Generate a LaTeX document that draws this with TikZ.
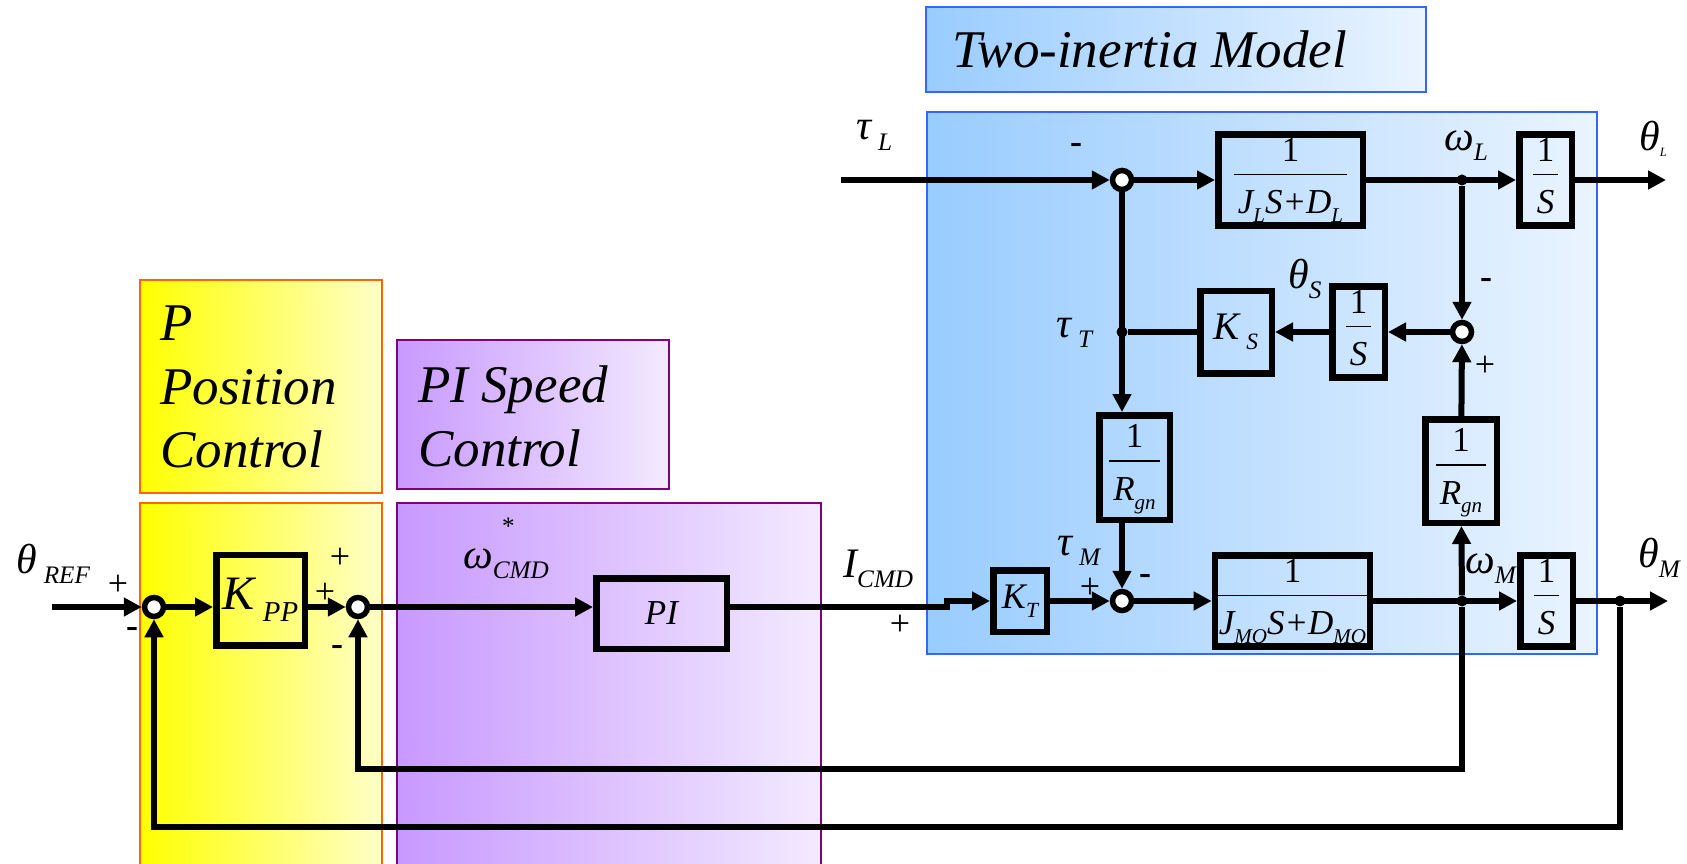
\documentclass[tikz,border=0pt]{standalone}
\usepackage{fontspec}
\setmainfont{Liberation Serif}
\usetikzlibrary{arrows.meta,positioning,calc}

\definecolor{ylwL}{HTML}{FFFF00}
\definecolor{ylwR}{HTML}{FFFFC8}
\definecolor{prpL}{HTML}{C899FF}
\definecolor{prpR}{HTML}{F3EAFF}
\definecolor{bluL}{HTML}{99CCFF}
\definecolor{bluR}{HTML}{EAF4FF}
\definecolor{ylwEdge}{HTML}{FF6600}
\definecolor{prpEdge}{HTML}{800080}
\definecolor{bluEdge}{HTML}{3366FF}

\setlength{\arrayrulewidth}{1.8pt}
\newcommand{\lsub}[1]{\raisebox{-0.25em}{\scalebox{0.6}{#1}}}
\newcommand{\recip}[1]{\begin{tabular}{@{\hspace{4pt}}c@{\hspace{4pt}}}\textup{1}\\[1pt]\hline\rule{0pt}{1.1em}#1\end{tabular}}

\begin{document}
\begin{tikzpicture}[
  x=1pt, y=-1pt,
  panel/.style={line width=1.5pt},
  ypanel/.style={panel, draw=ylwEdge, left color=ylwL, right color=ylwR},
  ppanel/.style={panel, draw=prpEdge, left color=prpL, right color=prpR},
  bpanel/.style={panel, draw=bluEdge, left color=bluL, right color=bluR},
  ttl/.style={font=\fontsize{53}{63.5}\selectfont\itshape, inner sep=0pt, align=left},
  blk/.style={draw, line width=6.5pt, inner sep=0pt,
    font=\fontsize{35}{38}\selectfont\itshape},
  sumpt/.style={circle, draw, fill=white, line width=5.5pt,
    minimum size=19pt, inner sep=0pt},
  jdot/.style={circle, fill, minimum size=11pt, inner sep=0pt},
  lbl/.style={font=\fontsize{42}{42}\selectfont\itshape, inner sep=0pt,
    anchor=base west},
  sgn/.style={font=\fontsize{36}{36}\selectfont, inner sep=0pt},
  flow/.style={-{Triangle[length=18pt,width=18pt]}, line width=6pt},
  fback/.style={flow, line width=5.5pt}
]
\useasboundingbox (0,0) rectangle (1687,864);

\draw[ypanel] (140,280) rectangle (382,493);
\draw[ypanel] (140,503) rectangle (382,880);
\draw[ppanel] (397,340) rectangle (669,489);
\draw[ppanel] (397,503) rectangle (821,880);
\draw[bpanel] (926,7) rectangle (1426,92);
\draw[bpanel] (927,112) rectangle (1597,654);

\node[ttl, anchor=north west] (ptitle) at (160,306) {P\\Position\\Control};
\node[ttl, anchor=north west] (pititle) at (418,366) {PI Speed\\Control};
\node[ttl, anchor=base west] (mtitle) at (952,68) {Two-inertia Model};

\node[sumpt] (sum1) at (154,607) {};
\node[sumpt] (sum2) at (358,607) {};
\node[sumpt] (sum3) at (1122,601) {};
\node[sumpt] (sumt) at (1122,180) {};
\node[sumpt] (sum4) at (1462,332) {};

\node[blk, minimum width=88.5pt, minimum height=90.5pt,
  font=\fontsize{48}{48}\selectfont\itshape] (kpp) at (260.5,600) {K\,\lsub{PP}};
\node[blk, minimum width=130.5pt, minimum height=70.5pt,
  font=\fontsize{35}{35}\selectfont\itshape] (pi) at (661.5,613.5) {PI};
\node[blk, minimum width=53.5pt, minimum height=61.5pt,
  font=\fontsize{36}{36}\selectfont\itshape] (kt) at (1020,601) {K\lsub{T}};
\node[blk, minimum width=146.5pt, minimum height=82.5pt] (jmo) at (1292.5,601)
  {\recip{J\lsub{MO}S+D\lsub{MO}}};
\node[blk, minimum width=52.5pt, minimum height=83.5pt] (sm) at (1546.5,601) {\recip{S}};
\node[blk, minimum width=144.5pt, minimum height=82.5pt] (jl) at (1290.5,180)
  {\recip{J\lsub{L}S+D\lsub{L}}};
\node[blk, minimum width=52.5pt, minimum height=82.5pt] (sl) at (1545.5,180) {\recip{S}};
\node[blk, minimum width=71.5pt, minimum height=82.5pt,
  font=\fontsize{39}{39}\selectfont\itshape] (ks) at (1236,332) {K\,\lsub{S}};
\node[blk, minimum width=52.5pt, minimum height=82.5pt] (ss) at (1358.5,332) {\recip{S}};
\node[blk, minimum width=70.5pt, minimum height=104.5pt] (rgnl) at (1134.5,467.5)
  {\recip{R\lsub{gn}}};
\node[blk, minimum width=71.5pt, minimum height=103.5pt] (rgnr) at (1461,471)
  {\recip{R\lsub{gn}}};

\coordinate (in) at (52,607);
\coordinate (jog) at (947,604);
\coordinate (thout) at (1668,601);
\coordinate (tlin) at (841,180);
\coordinate (thlout) at (1666,180);
\coordinate (fbi) at (1462,769);
\coordinate (fbo) at (1620,827);

\node[jdot] (dotl) at (1462,180) {};
\node[jdot] (dott) at (1122,332) {};
\node[jdot] (dotm) at (1462,601) {};
\node[jdot] (doto) at (1620,601) {};

\draw[flow] (in) -- (sum1);
\draw[flow] (sum1) -- (sum1 -| kpp.west);
\draw[flow] (kpp.east |- sum2) -- (sum2);
\draw[flow] (sum2) -- (sum2 -| pi.west);
\draw[flow] (pi.east |- sum2) -| (jog) |- (kt);
\draw[flow] (kt) -- (sum3);
\draw[flow] (sum3) -- (jmo);
\draw[flow] (jmo) -- (sm);
\draw[flow] (sm) -- (thout);
\draw[flow] (tlin) -- (sumt);
\draw[flow] (sumt) -- (jl);
\draw[flow] (jl) -- (sl);
\draw[flow] (sl) -- (thlout);
\draw[flow] (dotl) -- (sum4);
\draw[flow] (sum4) -- (ss);
\draw[flow] (ss) -- (ks);
\draw[line width=6pt] (ks) -- (dott);
\draw[flow] (sumt) -- (sumt |- rgnl.north);
\draw[flow] (sumt |- rgnl.south) -- (sum3);
\draw[flow] (dotm) -- (rgnr);
\draw[flow] (rgnr) -- (sum4);
\draw[fback] (dotm) -- (fbi) -| (sum2);
\draw[fback] (doto) -- (fbo) -| (sum1);

\node[lbl] (thref) at (16,573) {θ\,\lsub{REF}};
\node[lbl] (wcmd) at (463,568)
  {ω\rlap{\hspace{8pt}\raisebox{0.8em}{\scalebox{0.6}{*}}}\lsub{CMD}};
\node[lbl] (icmd) at (843,577) {I\lsub{CMD}};
\node[lbl] (taul) at (856,140) {τ\,\lsub{L}};
\node[lbl] (oml) at (1444,150) {ω\lsub{L}};
\node[lbl] (thl) at (1639,150) {θ\raisebox{-0.15em}{\scalebox{0.3}{L}}};
\node[lbl] (taut) at (1056,337) {τ\,\lsub{T}};
\node[lbl] (ths) at (1288,288) {θ\lsub{S}};
\node[lbl] (taum) at (1057,555) {τ\,\lsub{M}};
\node[lbl] (omm) at (1465,573) {ω\lsub{M}};
\node[lbl] (thm) at (1638,567) {θ\lsub{M}};

\node[sgn] (s1p) at (118,585) {+};
\node[sgn] (s1m) at (132,632) {\textbf{-}};
\node[sgn] (s2pa) at (340,558) {+};
\node[sgn] (s2pb) at (325,593) {+};
\node[sgn] (s2m) at (337,650) {\textbf{-}};
\node[sgn] (icp) at (900,625) {+};
\node[sgn] (s3p) at (1090,588) {+};
\node[sgn] (s3m) at (1145,579) {\textbf{-}};
\node[sgn] (stm) at (1076,148) {\textbf{-}};
\node[sgn] (s4m) at (1486,283) {\textbf{-}};
\node[sgn] (s4p) at (1485,366) {+};
\end{tikzpicture}
\end{document}
